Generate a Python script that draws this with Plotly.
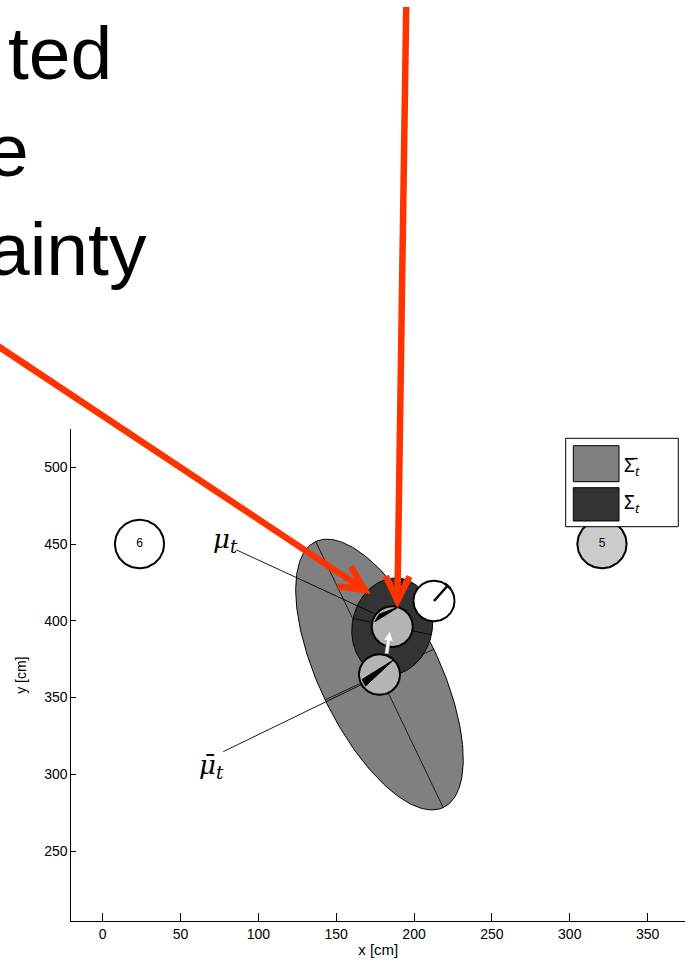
import numpy as np
import plotly.graph_objects as go

W, H = 685, 963

# ---------------------------------------------------------------- data (cm)
X_LIM = [-20.0, 374.0]
Y_LIM = [204.5, 524.7]
X_TICKS = [0, 50, 100, 150, 200, 250, 300, 350]
Y_TICKS = [250, 300, 350, 400, 450, 500]

# landmarks
LM_LABELS = ["6", "5"]
LM_X = [23.7, 320.7]
LM_Y = [450.0, 450.0]
LM_RADIUS = 15.8

# predicted mean, corrected mean and true robot pose (x, y, heading deg)
MU_BAR = [177.8, 365.0]
MU = [186.0, 396.2]
TRUE_POSE = [212.8, 412.9, 48.6]
ROBOT_RADIUS = 13.2

# heading wedges: tip angle, base angles (deg)
MU_BAR_WEDGE = [46.4, 196.0, 220.0]
MU_WEDGE = [73.5, 136.0, 164.0]

# covariance ellipses: semi-axes (cm), orientation of first axis (deg)
SIGMA_BAR_AXES = [95.8, 38.6]
SIGMA_BAR_ANGLE = -64.7
SIGMA_AXES = [31.9, 25.7]
SIGMA_ANGLE = 78.1

# motion from predicted to corrected mean
ODOM_FROM = [182.4, 378.7]
ODOM_TO = [184.5, 393.4]

# labels and their pointer lines
MU_LABEL_XY = [79.0, 452.5]
MU_POINTER = [[86.1, 446.1], [173.6, 405.1]]
MU_BAR_LABEL_XY = [70.0, 305.0]
MU_BAR_POINTER = [[77.5, 314.8], [166.9, 358.8]]

LEGEND_LABELS = ["Σ\u0304<sub><i>t</i></sub>", "Σ<sub><i>t</i></sub>"]

# ---------------------------------------------------------------- layout geometry
X_DOMAIN = [71.45 / W, 1.0]
Y_DOMAIN = [(H - 921.0) / H, (H - 429.3) / H]

GRAY = "#808080"
DARK = "#333333"
ROBOT_FILL = "#b4b4b4"
RED = "#ff3300"


def ellipse(center, axes, angle_deg, n=240):
    t = np.linspace(0, 2 * np.pi, n)
    a, b = axes
    ph = np.radians(angle_deg)
    x = center[0] + a * np.cos(t) * np.cos(ph) - b * np.sin(t) * np.sin(ph)
    y = center[1] + a * np.cos(t) * np.sin(ph) + b * np.sin(t) * np.cos(ph)
    return x, y


def ellipse_axes(center, axes, angle_deg):
    a, b = axes
    ph = np.radians(angle_deg)
    u = np.array([np.cos(ph), np.sin(ph)])
    v = np.array([-np.sin(ph), np.cos(ph)])
    c = np.array(center)
    p = [c - a * u, c + a * u, None, c - b * v, c + b * v]
    xs = [q[0] if q is not None else None for q in p]
    ys = [q[1] if q is not None else None for q in p]
    return xs, ys


def circle(center, r, n=120):
    return ellipse(center, [r, r], 0.0, n)


def rim(center, r, ang, frac=1.0):
    a = np.radians(ang)
    return center[0] + frac * r * np.cos(a), center[1] + frac * r * np.sin(a)


fig = go.Figure()

# predicted covariance
ex, ey = ellipse(MU_BAR, SIGMA_BAR_AXES, SIGMA_BAR_ANGLE)
fig.add_trace(go.Scatter(x=ex, y=ey, mode="lines", fill="toself", fillcolor=GRAY,
                         line=dict(color="black", width=1), hoverinfo="skip"))
ax, ay = ellipse_axes(MU_BAR, SIGMA_BAR_AXES, SIGMA_BAR_ANGLE)
fig.add_trace(go.Scatter(x=ax, y=ay, mode="lines", line=dict(color="black", width=0.8)))

# corrected covariance
ex, ey = ellipse(MU, SIGMA_AXES, SIGMA_ANGLE)
fig.add_trace(go.Scatter(x=ex, y=ey, mode="lines", fill="toself", fillcolor=DARK,
                         line=dict(color="black", width=1), hoverinfo="skip"))
ax, ay = ellipse_axes(MU, SIGMA_AXES, SIGMA_ANGLE)
fig.add_trace(go.Scatter(x=ax, y=ay, mode="lines", line=dict(color="black", width=0.8)))

# landmarks
for lab, lx, ly, fc in zip(LM_LABELS, LM_X, LM_Y, ["white", "#cbcbcb"]):
    cx, cy = circle([lx, ly], LM_RADIUS)
    fig.add_trace(go.Scatter(x=cx, y=cy, mode="lines", fill="toself", fillcolor=fc,
                             line=dict(color="black", width=2)))
fig.add_trace(go.Scatter(x=LM_X, y=LM_Y, mode="text", text=LM_LABELS,
                         textfont=dict(family="Liberation Sans", size=12, color="black")))

# robots at the two means
for c, wedge in ((MU_BAR, MU_BAR_WEDGE), (MU, MU_WEDGE)):
    cx, cy = circle(c, ROBOT_RADIUS)
    fig.add_trace(go.Scatter(x=cx, y=cy, mode="lines", fill="toself", fillcolor=ROBOT_FILL,
                             line=dict(color="black", width=2)))
    tip = rim(c, ROBOT_RADIUS, wedge[0])
    b1 = rim(c, ROBOT_RADIUS, wedge[1], 0.88)
    b2 = rim(c, ROBOT_RADIUS, wedge[2], 0.88)
    fig.add_trace(go.Scatter(x=[tip[0], b1[0], b2[0], tip[0]], y=[tip[1], b1[1], b2[1], tip[1]],
                             mode="lines", fill="toself", fillcolor="black",
                             line=dict(color="black", width=1)))

# true robot
tc = TRUE_POSE[:2]
cx, cy = circle(tc, ROBOT_RADIUS)
fig.add_trace(go.Scatter(x=cx, y=cy, mode="lines", fill="toself", fillcolor="white",
                         line=dict(color="black", width=2)))
hx, hy = rim(tc, ROBOT_RADIUS, TRUE_POSE[2])
pa = np.radians(TRUE_POSE[2] + 90)
tick = 2.4
fig.add_trace(go.Scatter(
    x=[tc[0], hx, None, hx - tick * np.cos(pa), hx + tick * np.cos(pa)],
    y=[tc[1], hy, None, hy - tick * np.sin(pa), hy + tick * np.sin(pa)],
    mode="lines", line=dict(color="black", width=2.5)))

# motion arrow (white)
p0 = np.array(ODOM_FROM)
p1 = np.array(ODOM_TO)
d = p1 - p0
L = np.hypot(*d)
u = d / L
n = np.array([-u[1], u[0]])
hl, hw, sw = 6.5, 3.2, 1.1
base = p1 - u * hl
poly = [p0 + n * sw, base + n * sw, base + n * hw, p1, base - n * hw, base - n * sw, p0 - n * sw, p0 + n * sw]
fig.add_trace(go.Scatter(x=[q[0] for q in poly], y=[q[1] for q in poly], mode="lines",
                         fill="toself", fillcolor="white", line=dict(color="#9a9a9a", width=0.6)))

# label pointers
for ptr in (MU_POINTER, MU_BAR_POINTER):
    fig.add_trace(go.Scatter(x=[ptr[0][0], ptr[1][0]], y=[ptr[0][1], ptr[1][1]], mode="lines",
                             line=dict(color="black", width=0.9)))

annotations = [
    dict(x=MU_LABEL_XY[0], y=MU_LABEL_XY[1], xref="x", yref="y", showarrow=False,
         text="<i>μ</i><sub><i>t</i></sub>",
         font=dict(family="DejaVu Serif", size=26, color="black")),
    dict(x=MU_BAR_LABEL_XY[0], y=MU_BAR_LABEL_XY[1], xref="x", yref="y", showarrow=False,
         text="<i>μ\u0304</i><sub><i>t</i></sub>",
         font=dict(family="DejaVu Serif", size=26, color="black")),
]

# ---------------------------------------------------------------- page overlays (pixels)
def P(px, py):
    return px / W, 1 - py / H


shapes = []


def red_arrow(start, tip, width=6.5, head=27.0, half=26.0):
    s = np.array(start, float)
    t = np.array(tip, float)
    u = (t - s) / np.hypot(*(t - s))
    back = width / 2 / np.sin(np.radians(half))
    v = t - u * back
    arms = []
    for sgn in (1, -1):
        a = np.radians(sgn * half)
        r = np.array([[np.cos(a), -np.sin(a)], [np.sin(a), np.cos(a)]]) @ (-u)
        arms.append(v + r * head)
    x0, y0 = P(*s)
    x1, y1 = P(*v)
    shapes.append(dict(type="line", xref="paper", yref="paper", x0=x0, y0=y0, x1=x1, y1=y1,
                       line=dict(color=RED, width=width), layer="above"))
    pts = [P(*arms[0]), P(*v), P(*arms[1])]
    path = "M {:.5f},{:.5f} L {:.5f},{:.5f} L {:.5f},{:.5f}".format(*pts[0], *pts[1], *pts[2])
    shapes.append(dict(type="path", xref="paper", yref="paper", path=path,
                       line=dict(color=RED, width=width), layer="above"))


# legend box
def rect(x0, y0, x1, y1, fill, lw=1):
    a = P(x0, y1)
    b = P(x1, y0)
    shapes.append(dict(type="rect", xref="paper", yref="paper", x0=a[0], y0=a[1], x1=b[0], y1=b[1],
                       fillcolor=fill, line=dict(color="black", width=lw), layer="above"))


rect(565.7, 438.3, 678.3, 526.7, "white")
rect(573.3, 445.7, 619.0, 481.7, GRAY)
rect(573.3, 487.7, 619.0, 521.0, DARK)
legend_font = dict(family="Noto Sans", size=19, color="black")
for lbl, py in zip(LEGEND_LABELS, (466.0, 503.0)):
    x, y = P(622, py)
    annotations.append(dict(x=x, y=y, xref="paper", yref="paper", xanchor="left", yanchor="middle",
                            showarrow=False, text=lbl, font=legend_font))

red_arrow((406.2, 7.0), (397.3, 608.0))
red_arrow((-6.0, 343.5), (370.8, 594.0))

# slide text
BIG = 75
for txt, right, baseline in (("ted", 114, 80), ("e", 31, 177), ("ainty", 149, 276)):
    x, y = P(right, baseline + 17)
    annotations.append(dict(x=x, y=y, xref="paper", yref="paper", xanchor="right", yanchor="bottom",
                            showarrow=False, text=txt,
                            font=dict(family="Liberation Sans", size=BIG, color="black")))

axis_font = dict(family="Liberation Sans", size=14, color="black")
fig.update_layout(
    width=W, height=H, autosize=False,
    margin=dict(l=0, r=0, t=0, b=0),
    paper_bgcolor="white", plot_bgcolor="white",
    showlegend=False,
    shapes=shapes,
    annotations=annotations,
    xaxis=dict(domain=X_DOMAIN, range=X_LIM, tickvals=X_TICKS, ticks="inside", ticklen=8,
               tickwidth=1, tickcolor="black", showline=True, linecolor="black", linewidth=1,
               showgrid=False, zeroline=False, tickfont=axis_font,
               title=dict(text="x [cm]", font=dict(family="Liberation Sans", size=15, color="black"),
                          standoff=3)),
    yaxis=dict(domain=Y_DOMAIN, range=Y_LIM, tickvals=Y_TICKS, ticks="inside", ticklen=5,
               tickwidth=1, tickcolor="black", showline=True, linecolor="black", linewidth=1,
               showgrid=False, zeroline=False, tickfont=axis_font,
               title=dict(text="y [cm]", font=axis_font, standoff=14)),
)

fig.write_html("out.html")
